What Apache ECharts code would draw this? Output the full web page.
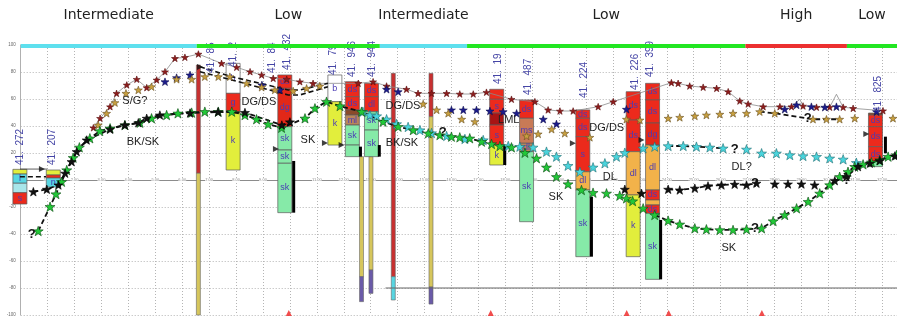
<!DOCTYPE html>
<html>
<head>
<meta charset="utf-8">
<script src="https://cdn.jsdelivr.net/npm/echarts@6/dist/echarts.min.js"></script>
<style>
  html, body { margin: 0; padding: 0; background: #fff; }
  #chart { width: 897px; height: 321px; }
</style>
</head>
<body>
<div id="chart"></div>
<script>
// ---------------- profile zones (top band) ----------------
const zoneStart = [0, 6.54, 13.34, 16.58, 26.92, 30.69];
const zoneEnd   = [6.54, 13.34, 16.58, 26.92, 30.69, 32.55];
const zoneNames = ['Intermediate', 'Low', 'Intermediate', 'Low', 'High', 'Low'];
const zoneClass = ['mid', 'low', 'mid', 'low', 'high', 'low'];

// distance ticks written along the zero line
const distanceTicks = [1, 2, 3, 4, 5, 6, 7, 8, 9, 10, 11, 12, 13, 14, 15, 16, 17, 18, 19, 20,
                       21, 22, 23, 24, 25, 26, 27, 28, 29, 30, 31, 32];

// ---------------- interpreted horizons (distance, level) ----------------
const redStars = [
  [2.70, 38.7], [2.95, 45.7], [3.32, 54.3], [3.56, 64.2], [3.94, 70.4], [4.31, 74.6], [4.68, 68.4],
  [5.05, 74.1], [5.36, 80.2], [5.73, 90.1], [6.10, 90.9], [6.60, 93.3], [7.46, 86.4], [8.02, 83.5],
  [8.52, 80.2], [8.95, 77.8], [9.38, 75.3], [9.88, 74.6], [10.37, 72.8], [10.86, 71.6], [12.54, 71.6],
  [13.09, 72.8], [13.59, 69.6], [14.33, 67.2], [14.76, 64.2], [15.26, 64.2], [15.82, 64.2],
  [16.31, 63.7], [16.81, 63.7], [17.30, 65.0], [18.23, 59.8], [19.10, 58.0], [19.59, 51.9],
  [20.03, 51.1], [20.52, 51.1], [21.45, 54.3], [22.01, 58.0], [24.17, 72.1], [24.42, 71.6],
  [24.85, 69.6], [25.35, 68.7], [25.85, 67.9], [26.28, 65.4], [26.71, 58.5], [27.02, 56.3],
  [27.58, 54.3], [28.20, 54.3], [28.63, 54.3], [29.06, 54.8], [29.56, 53.9], [30.05, 53.9],
  [30.55, 53.9], [30.92, 53.1], [32.03, 51.3]
];
const profileSpikes = [[28.94, 59.8], [30.30, 63.5]];

const navyStars = [
  [5.36, 72.8], [5.79, 75.8], [6.29, 77.8], [8.96, 70.4], [9.63, 66.7], [13.59, 67.2], [14.02, 65.4],
  [16.00, 51.9], [16.44, 51.9], [16.93, 51.9], [17.43, 51.1], [17.92, 50.6], [18.42, 49.4],
  [19.41, 45.0], [19.90, 41.5], [22.50, 52.4], [28.38, 52.4], [28.82, 55.6], [29.37, 54.3],
  [29.87, 53.9], [30.30, 54.3], [31.79, 50.6]
];

const goldStars = [
  [2.88, 40.7], [3.19, 49.4], [3.50, 57.3], [3.91, 64.2], [4.37, 66.7], [4.86, 69.1], [5.79, 74.6],
  [6.35, 74.6], [6.84, 76.5], [7.34, 76.5], [7.77, 76.5], [8.39, 71.6], [8.95, 68.7], [9.44, 66.7],
  [10.12, 65.9], [10.62, 67.9], [11.11, 69.6], [14.95, 56.3], [15.45, 51.9], [15.88, 49.4],
  [16.38, 45.0], [16.87, 43.2], [18.79, 32.6], [19.22, 34.1], [19.72, 37.6], [20.21, 34.6],
  [21.14, 31.6], [22.50, 45.0], [23.00, 44.4], [24.05, 45.7], [24.48, 46.4], [25.04, 47.4],
  [25.47, 48.1], [25.97, 48.7], [26.46, 49.4], [26.96, 49.4], [27.45, 50.6], [28.01, 49.4],
  [29.43, 45.0], [29.93, 45.0], [30.42, 45.0], [30.98, 45.7], [32.40, 45.7]
];
const goldLinks = [[36, 40]];

const greenStars = [
  [0.65, -37.8], [1.09, -19.8], [1.31, -10.4], [1.52, -1.3], [1.71, 7.4], [1.95, 16.5], [2.18, 24.2],
  [2.57, 30.9], [2.94, 36.3], [3.32, 38.3], [3.87, 40.7], [4.43, 42.4], [4.86, 45.7], [5.42, 48.1],
  [5.84, 49.4], [6.35, 49.9], [6.84, 50.6], [7.34, 50.6], [7.84, 50.6], [8.33, 48.1], [8.76, 45.0],
  [9.19, 41.3], [9.69, 38.7], [10.56, 45.7], [10.93, 53.1], [11.36, 58.0], [11.86, 54.8],
  [12.66, 50.6], [13.46, 43.2], [14.02, 39.5], [14.58, 37.0], [15.14, 34.6], [15.57, 33.3],
  [16.00, 32.1], [16.31, 31.6], [16.68, 30.9], [17.12, 28.4], [17.49, 26.7], [17.80, 25.2],
  [18.23, 24.2], [18.73, 20.2], [19.16, 16.1], [19.53, 9.4], [19.90, 2.4], [20.33, -3.0],
  [20.83, -7.4], [21.26, -9.4], [21.76, -9.9], [22.25, -11.6], [22.50, -13.6], [22.73, -15.6],
  [23.12, -21.0], [23.55, -25.9], [24.05, -30.1], [24.48, -32.8], [25.04, -35.8], [25.47, -36.5],
  [25.97, -37.0], [26.46, -37.0], [26.96, -36.5], [27.52, -35.8], [27.95, -30.4], [28.38, -25.9],
  [28.82, -21.0], [29.25, -16.1], [29.68, -9.9], [30.05, -3.7], [30.42, 2.4], [30.73, 6.1],
  [30.98, 9.9], [31.29, 11.6], [31.60, 13.1], [31.91, 14.8], [32.22, 17.3], [32.53, 18.5]
];
const greenLinks = [[0, 39], [52, 74]];

const blackStars = [
  [0.47, -8.7], [0.97, -6.9], [1.40, -3.7], [1.65, 5.0], [1.89, 13.6], [2.08, 21.0], [2.45, 29.6],
  [3.32, 37.6], [3.87, 40.7], [4.37, 42.4], [4.68, 45.7], [5.17, 48.1], [6.29, 49.6], [7.33, 50.4],
  [8.33, 50.0], [9.70, 40.7], [10.00, 43.0],
  [22.44, -6.9], [23.06, -9.9], [24.05, -6.9], [24.48, -7.4], [25.04, -6.1], [25.53, -4.4],
  [26.03, -3.7], [26.52, -3.2], [26.96, -3.7], [27.33, -2.4], [28.01, -3.0], [28.50, -3.0],
  [29.00, -3.0], [29.49, -3.7], [30.24, -0.5], [30.67, 2.4], [31.10, 9.9], [31.54, 12.4],
  [31.91, 14.3], [32.47, 17.8]
];
const blackLinks = [[0, 16], [19, 26], [31, 36]];

const cyanStars = [
  [12.71, 50.6], [12.97, 48.1], [13.22, 47.4], [13.59, 45.0], [13.96, 41.5], [14.39, 39.3],
  [14.83, 37.0], [15.26, 34.8], [15.82, 32.6], [16.50, 30.4], [17.18, 29.6], [18.11, 25.2],
  [18.54, 24.7], [19.03, 24.2], [19.53, 21.0], [19.90, 17.3], [20.33, 10.6], [20.77, 6.1],
  [21.26, 9.4], [21.70, 12.4], [22.13, 17.3], [22.44, 20.2], [23.12, 23.5], [23.55, 24.7],
  [24.05, 25.2], [24.61, 25.2], [25.10, 24.7], [25.60, 24.2], [26.09, 23.5], [26.96, 22.7],
  [27.52, 19.8], [28.07, 19.8], [28.57, 18.5], [29.06, 17.8], [29.56, 17.3], [30.05, 16.1],
  [30.55, 15.3], [31.04, 12.8]
];
const cyanLinks = [[24, 28]];

// correlation lines between well tops
const topLineA = [[6.66, 83.9], [7.84, 76.5], [9.94, 66.7], [10.37, 66.7], [11.41, 71.6]];
const topLineB = [[6.66, 80.2], [7.84, 74.1], [9.94, 63.0], [10.37, 63.0], [11.41, 69.1]];
const leftTieSolid = [[-0.40, 8.1], [0.98, 8.1]];
const leftTieDashed = [[-0.03, 2.4], [0.94, 2.4]];
const datumLine = [[13.55, -80], [32.55, -80]];

// ---------------- wells ----------------
const wellX = [-0.03, 1.21, 7.89, 9.81, 11.67, 12.32, 13.03, 17.68, 18.79, 20.88, 22.75, 23.47, 31.75];
// [top, bottom, lithology, label]
const wellIntervals = [
  [[7.9, 4.4, 'k', ''], [4.4, -2.4, 'cy', 'l'], [-2.4, -9.4, 'lcy', ''], [-9.4, -17.8, 's', 's']],
  [[7.4, 3.7, 'k', ''], [3.7, 1.5, 's', ''], [1.5, -5.2, 'cy', 'n']],
  [[86.4, 64.2, 'b', 'b'], [64.2, 50.6, 'g', 'g'], [50.6, 7.4, 'k', 'k']],
  [[77.8, 67.9, 'ds', 'ds'], [67.9, 39.5, 'dg', 'dg'], [39.5, 22.2, 'sk', 'sk'], [22.2, 12.4, 'sk', 'sk'], [12.4, -24.2, 'sk', 'sk']],
  [[77.8, 58.0, 'b', 'b'], [58.0, 25.9, 'k', 'k']],
  [[72.8, 61.7, 'ds', 'ds'], [61.7, 51.9, 'ds', 'ds'], [51.9, 48.1, 'br', ''], [48.1, 40.7, 'ml', 'ml'], [40.7, 25.9, 'sk', 'sk'], [25.9, 17.3, 'sk', '']],
  [[71.6, 61.7, 'ds', 'ds'], [61.7, 50.6, 'ds', 'dl'], [50.6, 37.0, 'sk', 'sk'], [37.0, 17.3, 'sk', 'sk']],
  [[67.2, 59.8, 's', ''], [59.8, 49.6, 's', 's'], [49.6, 40.7, 'sd', ''], [40.7, 25.9, 's', 's'], [25.9, 11.1, 'k', 'k']],
  [[59.3, 45.7, 'ds', 'ds'], [45.7, 27.2, 'ms', 'ms'], [27.2, 21.0, 'ml', 'dl'], [21.0, -30.9, 'sk', 'sk']],
  [[51.9, 45.7, 'ds', 'ds'], [45.7, 32.1, 'ds', 'ds'], [32.1, 6.1, 's', 's'], [6.1, -7.4, 'dl', 'dl'], [-7.4, -56.8, 'sk', 'sk']],
  [[65.4, 44.4, 'ds', 'ds'], [44.4, 21.0, 'ds', 'ds'], [21.0, -11.1, 'dl', 'dl'], [-11.1, -56.8, 'k', 'k']],
  [[71.6, 59.3, 'ds', 'ds'], [59.3, 42.2, 'ds', 'ds'], [42.2, 25.9, 'dg', 'dg'], [25.9, -7.4, 'dl', 'dl'], [-7.4, -14.8, 'ds', 'ds'], [-14.8, -18.5, 'dl', ''], [-18.5, -24.7, 'ds', 'ds'], [-24.7, -73.6, 'sk', 'sk']],
  [[49.6, 48.1, 'br', ''], [48.1, 39.5, 'ds', 'ds'], [39.5, 24.7, 'ds', 'ds'], [24.7, 13.6, 'ds', 'ds'], [13.6, 9.9, 'sk', '']]
];
// resistivity logs beside wells: [x, top, bottom]
const logBars = [[10.14, 14.1, -24.2], [12.62, 24.7, 17.3], [13.32, 25.9, 17.3], [17.98, 25.9, 11.1],
                 [21.20, -12.4, -56.8], [23.77, -29.6, -73.6], [32.12, 32.1, 19.8]];
// deep boreholes drawn as thin casings
const deepX = [6.60, 12.66, 13.01, 13.84, 15.24];
const deepIntervals = [
  [[85.2, 5.0, 'red'], [5.0, -100, 'olive']],
  [[17.3, -71.6, 'olive'], [-71.6, -90.1, 'purple']],
  [[17.3, -66.7, 'olive'], [-66.7, -84.0, 'purple']],
  [[79.0, -71.6, 'red'], [-71.6, -88.9, 'cyan']],
  [[79.0, 46.9, 'red'], [46.9, -79.3, 'olive'], [-79.3, -91.9, 'purple']]
];
const wellNames = ['41.  272', '41.  207', '41.  85', '41.  2', '41.  84', '41.  432', '41.  79', '41.  946',
                   '41.  944', '41.  19', '41.  487', '41.  224', '41.  226', '41.  399', '41.  825'];
const wellNameX = [-0.03, 1.17, 7.07, 7.88, 9.33, 9.89, 11.60, 12.30, 13.04, 17.72, 18.84, 20.95, 22.81, 23.37, 31.84];
const wellNameBase = [11.1, 11.1, 79.3, 83.7, 79.3, 81.5, 77.8, 76.3, 76.3, 71.1, 63.0, 60.7, 66.7, 76.3, 50.4];

const tieMarkers = [[-0.40, 8.1], [0.79, 8.1], [6.66, 83.7], [9.48, 23.0], [11.30, 27.4], [11.92, 25.9],
                    [20.51, 27.2], [23.06, 29.6], [31.41, 34.1]];
const sampleSites = [9.96, 17.46, 22.51, 24.07, 27.53];

// ---------------- annotations ----------------
const noteText = ['S/G?', 'BK/SK', 'DG/DS', 'SK', 'DG/DS', 'BK/SK', 'LML', 'DG/DS', 'DL', 'SK', 'DL?', 'SK'];
const notePos = [[4.24, 58.5], [4.54, 28.1], [8.85, 57.8], [10.67, 29.6], [14.20, 54.8], [14.16, 27.4],
                 [18.13, 44.4], [21.77, 38.5], [21.88, 2.2], [19.88, -12.6], [26.78, 9.6], [26.30, -50.4]];
const queryPos = [[0.41, -40.0], [15.68, 35.6], [26.52, 23.0], [27.27, -2.2], [29.23, 45.9], [30.68, 0], [27.27, -35.6]];

// ---------------- styling ----------------
const LITH = {
  ds: '#ec2a1c', dg: '#e22818', s: '#ec2a1c', g: '#ec2a1c', sd: '#a81414',
  k: '#e2ee3c', sk: '#86eaa8', dl: '#f2b24a', ms: '#c87a56', ml: '#b9855a',
  b: '#ffffff', br: '#8a4a2a', cy: '#58d6e2', lcy: '#a8e6ea'
};
const CASING = { red: '#c83030', olive: '#d6c65c', purple: '#6a5aa8', cyan: '#58d6e2' };
const ZONE = { mid: '#5ee0ee', low: '#22e622', high: '#ec3030' };
const STAR = 'path://M10,0L12.35,6.76L19.51,6.91L13.8,11.24L15.88,18.09L10,14L4.12,18.09L6.2,11.24L0.49,6.91L7.65,6.76Z';
const LABEL_BLUE = '#4b3cb4';

const intervalRows = [];
wellIntervals.forEach((list, w) => list.forEach(seg => intervalRows.push([wellX[w], seg[0], seg[1], seg[2], seg[3]])));
const casingRows = [];
deepIntervals.forEach((list, w) => list.forEach(seg => casingRows.push([deepX[w], seg[0], seg[1], seg[2]])));

const profileLine = redStars.concat(profileSpikes).sort((a, b) => a[0] - b[0]);

function starSeries(points, color, size, border) {
  return { type: 'scatter', data: points, symbol: STAR, symbolSize: size, symbolKeepAspect: true,
           itemStyle: { color: color, borderColor: border, borderWidth: 0.6, opacity: 1 },
           z: 6, silent: true, animation: false };
}
function linkSeries(points, ranges, width) {
  return ranges.map(r => ({ type: 'line', data: points.slice(r[0], r[1] + 1), symbol: 'none',
           lineStyle: { color: '#111', width: width || 1.8, type: [5, 3] }, z: 5, silent: true, animation: false }));
}
function plainLine(points, color, width, dash) {
  return { type: 'line', data: points, symbol: 'none', lineStyle: { color: color, width: width, type: dash || 'solid' },
           z: 5, silent: true, animation: false };
}

const chart = echarts.init(document.getElementById('chart'));
const option = {
  backgroundColor: '#fff',
  animation: false,
  grid: { left: 20.7, right: 0, top: 45, bottom: 6, containLabel: false },
  xAxis: {
    type: 'value', min: 0, max: 32.55, interval: 1,
    axisLine: { onZero: true, lineStyle: { color: '#8c8c8c', width: 1 } },
    axisTick: { show: false },
    axisLabel: { show: false },
    splitLine: { show: true, lineStyle: { color: '#b4b4b4', width: 1, type: [1, 2] } }
  },
  yAxis: {
    type: 'value', min: -100, max: 100, interval: 20,
    axisLine: { show: true, lineStyle: { color: '#b0b0b0' } },
    axisTick: { show: false },
    axisLabel: { fontSize: 4.5, color: '#666', margin: 5 },
    splitLine: { show: true, lineStyle: { color: '#b4b4b4', width: 1, type: [1, 2] } }
  },
  series: [
    // zone band and names
    {
      type: 'custom', z: 8, silent: true, animation: false,
      data: zoneStart.map((s, i) => [s, zoneEnd[i], i]),
      encode: { x: [0, 1] },
      renderItem(params, api) {
        const i = params.dataIndex;
        const a = api.coord([zoneStart[i], 100]);
        const b = api.coord([zoneEnd[i], 100]);
        const mid = Math.min((a[0] + b[0]) / 2, 897 - 16);
        return { type: 'group', children: [
          { type: 'rect', shape: { x: a[0], y: a[1] - 1, width: b[0] - a[0], height: 4 }, style: { fill: ZONE[zoneClass[i]] } },
          { type: 'text', x: mid, y: 15, style: { text: zoneNames[i], fill: '#222', font: '14px "DejaVu Sans"', align: 'center', verticalAlign: 'middle' } }
        ] };
      }
    },
    // distance labels on the zero line
    {
      type: 'custom', z: 2, silent: true, animation: false,
      data: distanceTicks.map(d => [d, 0]),
      encode: { x: 0, y: 1 },
      renderItem(params, api) {
        const d = distanceTicks[params.dataIndex];
        const p = api.coord([d, 0]);
        return { type: 'text', x: p[0], y: p[1],
                 style: { text: d.toFixed(2), fill: '#8a8a8a', font: '4px "Liberation Sans"', align: 'center', verticalAlign: 'middle',
                          backgroundColor: '#fff' } };
      }
    },
    // datum and tie lines
    plainLine(datumLine, '#666', 1),
    plainLine(leftTieSolid, '#333', 0.8),
    plainLine(leftTieDashed, '#111', 1.6, [5, 3]),
    plainLine(topLineA, '#111', 1.6, [5, 3]),
    plainLine(topLineB, '#111', 1.6, [5, 3]),
    // surface profile
    { type: 'line', data: profileLine, symbol: 'none', lineStyle: { color: '#8a8a8a', width: 0.8 }, z: 4, silent: true, animation: false },
    // deep boreholes
    {
      type: 'custom', z: 3, silent: true, animation: false,
      data: casingRows.map((r, i) => [r[0], r[1], r[2], i]),
      encode: { x: 0, y: [1, 2] },
      renderItem(params, api) {
        const r = casingRows[params.dataIndex];
        const a = api.coord([r[0], r[1]]), b = api.coord([r[0], r[2]]);
        return { type: 'rect', shape: { x: a[0] - 2, y: a[1], width: 4, height: b[1] - a[1] },
                 style: { fill: CASING[r[3]], stroke: '#666', lineWidth: 0.6 } };
      }
    },
    // well columns
    {
      type: 'custom', z: 4, silent: true, animation: false,
      data: intervalRows.map((r, i) => [r[0], r[1], r[2], i]),
      encode: { x: 0, y: [1, 2] },
      renderItem(params, api) {
        const r = intervalRows[params.dataIndex];
        const a = api.coord([r[0], r[1]]), b = api.coord([r[0], r[2]]);
        const w = 14;
        const kids = [{ type: 'rect', shape: { x: a[0] - w / 2, y: a[1], width: w, height: b[1] - a[1] },
                        style: { fill: LITH[r[3]], stroke: '#5a5a5a', lineWidth: 0.7 } }];
        if (r[4]) kids.push({ type: 'text', x: a[0], y: (a[1] + b[1]) / 2,
                              style: { text: r[4], fill: LABEL_BLUE, font: '9px "Liberation Sans"', align: 'center', verticalAlign: 'middle' } });
        return { type: 'group', children: kids };
      }
    },
    // log bars
    {
      type: 'custom', z: 4, silent: true, animation: false,
      data: logBars,
      encode: { x: 0, y: [1, 2] },
      renderItem(params, api) {
        const r = logBars[params.dataIndex];
        const a = api.coord([r[0], r[1]]), b = api.coord([r[0], r[2]]);
        return { type: 'rect', shape: { x: a[0] - 1.5, y: a[1], width: 3, height: b[1] - a[1] }, style: { fill: '#000' } };
      }
    },
    // well names
    {
      type: 'custom', z: 7, silent: true, animation: false,
      data: wellNameX.map((x, i) => [x, wellNameBase[i]]),
      encode: { x: 0, y: 1 },
      renderItem(params, api) {
        const i = params.dataIndex;
        const p = api.coord([wellNameX[i], wellNameBase[i]]);
        return { type: 'text', x: p[0], y: p[1], rotation: Math.PI / 2,
                 style: { text: wellNames[i], fill: '#4646a6', font: '10px "Liberation Sans"', align: 'left', verticalAlign: 'middle' } };
      }
    },
    // stars
    starSeries(redStars, '#8e1c1c', 7, '#5a0e0e'),
    starSeries(navyStars, '#1c1c8c', 8, '#0c0c50'),
    starSeries(goldStars, '#c8a040', 8, '#6a5020'),
    ...linkSeries(goldStars, goldLinks),
    ...linkSeries(greenStars, greenLinks),
    ...linkSeries(blackStars, blackLinks),
    ...linkSeries(cyanStars, cyanLinks),
    starSeries(cyanStars, '#4ad4dc', 10, '#1e6e74'),
    starSeries(greenStars, '#22c838', 10, '#0b4a12'),
    starSeries(blackStars, '#111', 9, '#000'),
    // markers
    { type: 'scatter', data: tieMarkers, symbol: 'triangle', symbolRotate: -90, symbolSize: 6,
      itemStyle: { color: '#111' }, z: 7, silent: true, animation: false },
    { type: 'scatter', data: sampleSites.map(x => [x, -100]), symbol: 'triangle', symbolSize: 6, symbolOffset: [0, -2],
      itemStyle: { color: '#ee2020' }, z: 7, silent: true, animation: false },
    // annotations
    {
      type: 'custom', z: 9, silent: true, animation: false,
      data: notePos,
      encode: { x: 0, y: 1 },
      renderItem(params, api) {
        const i = params.dataIndex;
        const p = api.coord(notePos[i]);
        return { type: 'text', x: p[0], y: p[1],
                 style: { text: noteText[i], fill: '#222', font: '11px "Liberation Sans"', align: 'center', verticalAlign: 'middle' } };
      }
    },
    {
      type: 'custom', z: 9, silent: true, animation: false,
      data: queryPos,
      encode: { x: 0, y: 1 },
      renderItem(params, api) {
        const p = api.coord(queryPos[params.dataIndex]);
        return { type: 'text', x: p[0], y: p[1],
                 style: { text: '?', fill: '#111', font: 'bold 13px "Liberation Sans"', align: 'center', verticalAlign: 'middle' } };
      }
    }
  ]
};
chart.setOption(option);
</script>
</body>
</html>
